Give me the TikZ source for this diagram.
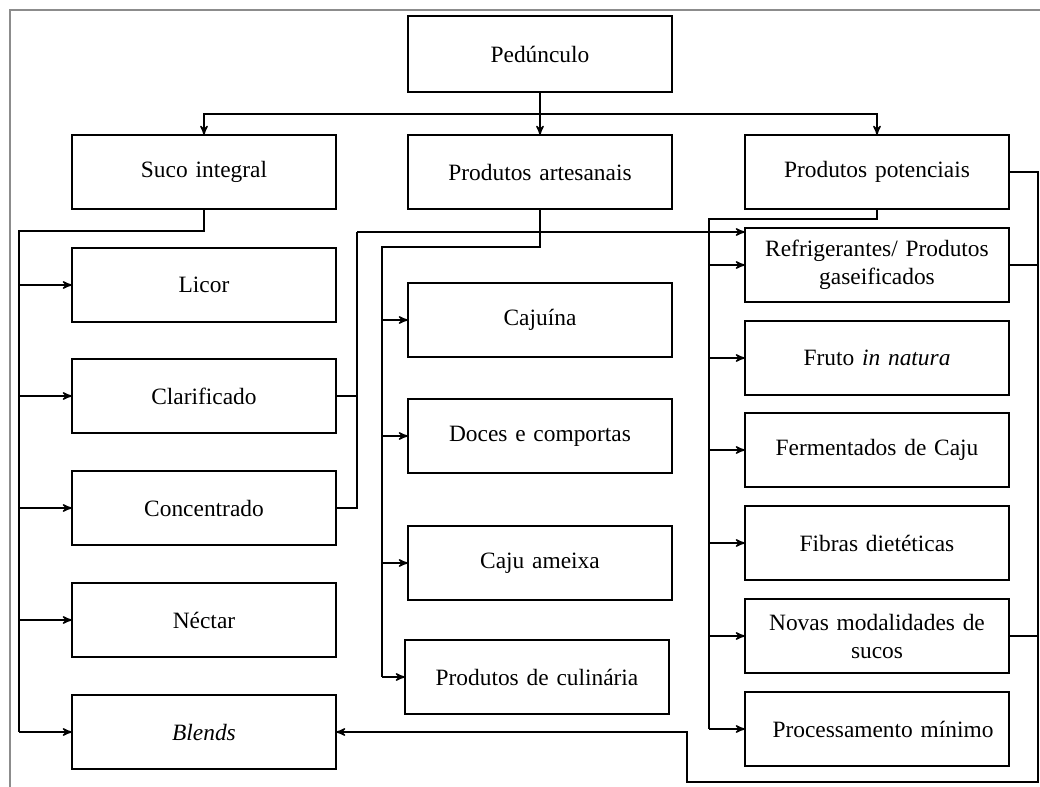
\documentclass[tikz,border=0pt]{standalone}
\usepackage{fontspec}
\setmainfont{Liberation Serif}
\usetikzlibrary{positioning,arrows,calc}

\begin{document}
\begin{tikzpicture}[x=0.5pt, y=-0.5pt, >=stealth', line width=0.7pt,
box/.style={draw, line width=0.8pt, outer sep=0pt, text centered, text width=124pt, minimum width=132pt, minimum height=37pt, font=\fontsize{11.7}{14}\selectfont},
frame/.style={draw=black!45, line width=1pt}
]
\useasboundingbox (0,0) rectangle (1040,787);

\draw [frame] (10,787) -- (10,10) -- (1040,10);

\node (ped) [box, minimum height=38pt] at (540,54) {Pedúnculo};
\node (art) [box, below=21.5pt of ped] {Produtos artesanais};
\node (suco) [box, left=36pt of art] {Suco integral};
\node (pot) [box, right=36.5pt of art] {Produtos potenciais};

% suco integral
\node (licor) [box, below=19.5pt of suco] {Licor};
\node (clar) [box, below=18.5pt of licor] {Clarificado};
\node (conc) [box, below=19pt of clar] {Concentrado};
\node (nectar) [box, below=19pt of conc] {Néctar};
\node (blends) [box, below=19pt of nectar] {\textit{Blends}};

% produtos artesanais
\node (caju) [box, below=37pt of art] {Cajuína};
\node (doces) [box, below=21pt of caju] {Doces e comportas};
\node (ameixa) [box, below=26.5pt of doces] {Caju ameixa};
\node (culin) [box, below=20pt of ameixa, xshift=-1.5pt] {Produtos de culinária};

% produtos potenciais
\node (refri) [box, below=9.5pt of pot] {Refrigerantes/ Produtos\\ gaseificados};
\node (fruto) [box, below=9.5pt of refri] {Fruto \textit{in natura}};
\node (ferm) [box, below=9pt of fruto] {Fermentados de Caju};
\node (fibras) [box, below=9.5pt of ferm] {Fibras dietéticas};
\node (novas) [box, below=9.5pt of fibras] {Novas modalidades de\\ sucos};
\node (proc) [box, below=9.5pt of novas] {\hspace*{6pt}Processamento mínimo};

\draw[->] (ped) -- (art);
\draw[->] (ped.south) -- ++(0,-11pt) -| (suco);
\draw[->] (ped.south) -- ++(0,-11pt) -| (pot);

\coordinate (lbus) at (19,231);
\draw (suco) |- (lbus) -- (lbus |- blends.west);
\foreach \n in {licor,clar,conc,nectar,blends}
  \draw[->] (lbus |- \n.west) -- (\n.west);

\coordinate (mbus) at (382,247);
\draw (art) |- (mbus) -- (mbus |- culin.west);
\foreach \n in {caju,doces,ameixa,culin}
  \draw[->] (mbus |- \n.west) -- (\n.west);

% clarificado e concentrado
\coordinate (cbus) at (357,232);
\draw (clar.east) -| (cbus);
\draw (conc.east) -| (cbus);
\draw[->] (cbus) -- (cbus -| refri.west);

\coordinate (rbus) at (709,219);
\draw (pot) |- (rbus) -- (rbus |- proc.west);
\foreach \n in {refri,fruto,ferm,fibras,novas,proc}
  \draw[->] (rbus |- \n.west) -- (\n.west);

% volta para blends
\coordinate (rr) at (1038,782);
\coordinate (rl) at (687,782);
\draw[->] (pot.east) -| (rr) -- (rl) |- (blends.east);
\draw (refri.east) -- (refri.east -| rr);
\draw (novas.east) -- (novas.east -| rr);

\end{tikzpicture}
\end{document}
